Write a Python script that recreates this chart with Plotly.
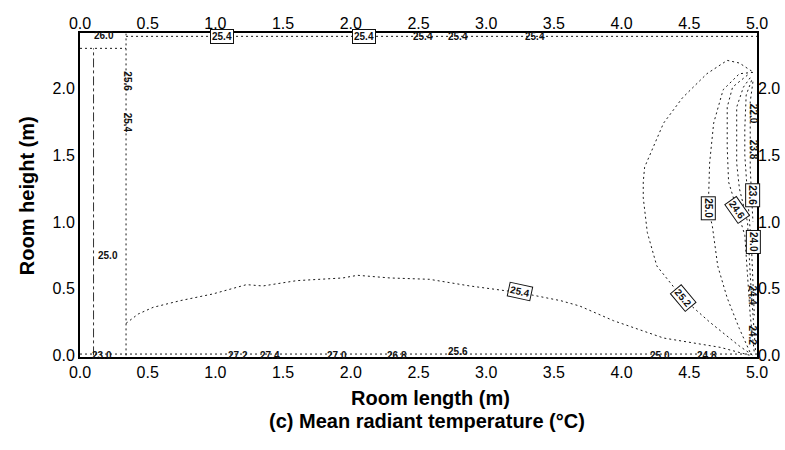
import plotly.graph_objects as go

# ---------------- data ----------------
x_ticks = [0.0, 0.5, 1.0, 1.5, 2.0, 2.5, 3.0, 3.5, 4.0, 4.5, 5.0]
y_ticks = [0.0, 0.5, 1.0, 1.5, 2.0]

# 25.4 contour along the floor region
c254_x = [0.34, 0.43, 0.54, 0.74, 0.98, 1.23, 1.35, 1.60, 1.94, 2.05, 2.29, 2.58, 2.88, 3.25, 3.55, 3.69, 3.94, 4.31, 4.73, 4.95]
c254_y = [0.24, 0.31, 0.36, 0.41, 0.46, 0.53, 0.52, 0.56, 0.58, 0.60, 0.58, 0.57, 0.52, 0.47, 0.41, 0.37, 0.26, 0.13, 0.06, 0.00]

c252_x = [4.96, 4.87, 4.78, 4.63, 4.45, 4.31, 4.17, 4.16, 4.16, 4.19, 4.26, 4.45, 4.65, 4.87, 4.97]
c252_y = [2.13, 2.19, 2.21, 2.11, 1.93, 1.74, 1.41, 1.30, 1.18, 0.92, 0.67, 0.43, 0.25, 0.07, 0.00]

c250_x = [4.97, 4.87, 4.75, 4.68, 4.65, 4.64, 4.67, 4.71, 4.78, 4.87, 4.95]
c250_y = [2.12, 2.11, 1.99, 1.74, 1.44, 1.10, 0.97, 0.67, 0.43, 0.20, 0.02]

c248_x = [4.93, 4.82, 4.78, 4.78, 4.79, 4.85, 4.91, 4.93, 4.95, 4.98]
c248_y = [2.10, 2.01, 1.86, 1.56, 1.30, 1.09, 0.90, 0.60, 0.30, 0.02]

c246_x = [4.95, 4.90, 4.85, 4.85, 4.87, 4.93, 4.95, 4.97, 4.99]
c246_y = [2.08, 2.01, 1.86, 1.44, 1.25, 1.00, 0.60, 0.30, 0.02]

c244_x = [4.96, 4.92, 4.91, 4.91, 4.93, 4.96, 4.98]
c244_y = [2.06, 1.95, 1.70, 1.50, 1.20, 0.80, 0.30]

c242_x = [4.97, 4.95, 4.95, 4.97]
c242_y = [2.05, 1.90, 1.40, 1.00]

# left-hand (window / wall) contours
wall_x = [0.34, 0.34]
wall_y = [0.00, 2.41]
left_x = [0.10, 0.10]
left_y = [0.00, 2.30]
ceil_x = [0.00, 0.34]
ceil_y = [2.30, 2.30]
top_x = [0.34, 5.00]
top_y = [2.39, 2.39]
floor_x = [0.00, 5.00]
floor_y = [0.01, 0.01]

# contour labels: text, x, y, angle, boxed
lab_text = ["25.4", "25.2", "25.0", "24.6", "23.6", "24.0", "22.0", "23.8", "24.4", "24.2",
            "25.6", "25.4", "25.0", "26.0", "23.0",
            "27.2", "27.4", "27.0", "26.8", "25.6", "25.0", "24.8",
            "25.4", "25.4", "25.4", "25.4", "25.4"]
lab_x = [3.25, 4.45, 4.64, 4.85, 4.97, 4.97, 4.97, 4.97, 4.97, 4.97,
         0.35, 0.35, 0.21, 0.18, 0.16,
         1.17, 1.40, 1.90, 2.34, 2.79, 4.28, 4.63,
         1.05, 2.10, 2.53, 2.79, 3.36]
lab_y = [0.48, 0.43, 1.10, 1.09, 1.20, 0.85, 1.81, 1.54, 0.45, 0.15,
         2.05, 1.74, 0.75, 2.40, 0.00,
         0.00, 0.00, 0.00, 0.00, 0.03, 0.00, 0.00,
         2.39, 2.39, 2.39, 2.39, 2.39]
lab_ang = [12, 50, 90, 55, 90, 90, 90, 90, 90, 90,
           90, 90, 0, 0, 0,
           0, 0, 0, 0, 0, 0, 0,
           0, 0, 0, 0, 0]
lab_box = [1, 1, 1, 1, 1, 1, 0, 0, 0, 0,
           0, 0, 0, 0, 0,
           0, 0, 0, 0, 0, 0, 0,
           1, 1, 0, 0, 0]

FONT = "Liberation Sans, Arial, Helvetica, sans-serif"
LINE = dict(color="#1a1a1a", width=1, dash="2px,3px")

fig = go.Figure()


def add_line(xs, ys, line=LINE):
    fig.add_trace(go.Scatter(x=xs, y=ys, mode="lines", line=line,
                             showlegend=False, hoverinfo="skip"))


for xs, ys in [(c254_x, c254_y), (c252_x, c252_y), (c250_x, c250_y), (c248_x, c248_y),
               (c246_x, c246_y), (c244_x, c244_y), (c242_x, c242_y),
               (wall_x, wall_y), (ceil_x, ceil_y), (top_x, top_y), (floor_x, floor_y)]:
    add_line(xs, ys)
add_line(left_x, left_y, dict(color="#333", width=1, dash="dashdot"))

# dummy trace for top/right axes
fig.add_trace(go.Scatter(x=[0], y=[0], xaxis="x2", yaxis="y2", mode="markers",
                         marker=dict(opacity=0), showlegend=False, hoverinfo="skip"))

for t, x, y, a, b in zip(lab_text, lab_x, lab_y, lab_ang, lab_box):
    fig.add_annotation(x=x, y=y, xref="x", yref="y", text="<b>" + t + "</b>",
                       showarrow=False, textangle=a,
                       font=dict(family=FONT, size=10, color="#111"),
                       bgcolor="white" if b else "rgba(0,0,0,0)",
                       bordercolor="#111" if b else "rgba(0,0,0,0)",
                       borderwidth=1 if b else 0, borderpad=1)

axis_common = dict(showgrid=False, zeroline=False, ticks="", tickformat=".1f",
                   automargin=False,
                   tickfont=dict(family=FONT, size=16, color="black"))

fig.update_layout(
    width=785, height=450,
    margin=dict(l=80, r=28, t=33, b=93, autoexpand=False),
    paper_bgcolor="white", plot_bgcolor="white",
    xaxis=dict(range=[0, 5], tickvals=x_ticks, showline=True, linecolor="black",
               linewidth=2, mirror=True, **axis_common),
    yaxis=dict(range=[-0.012, 2.415], tickvals=y_ticks, showline=True, linecolor="black",
               linewidth=2, mirror=True, **axis_common),
    xaxis2=dict(range=[0, 5], tickvals=x_ticks, overlaying="x", side="top",
                showline=False, **axis_common),
    yaxis2=dict(range=[-0.012, 2.415], tickvals=y_ticks, overlaying="y", side="right",
                showline=False, **axis_common),
)

fig.add_annotation(x=-0.078, y=0.497, xref="paper", yref="paper", showarrow=False,
                   xanchor="center", yanchor="middle",
                   text="<b>Room height (m)</b>", textangle=-90,
                   font=dict(family=FONT, size=20, color="black"))
fig.add_annotation(x=0.517, y=-0.1265, xref="paper", yref="paper", showarrow=False,
                   xanchor="center", yanchor="middle",
                   text="<b>Room length (m)</b>",
                   font=dict(family=FONT, size=20, color="black"))
fig.add_annotation(x=0.5125, y=-0.1975, xref="paper", yref="paper", showarrow=False,
                   xanchor="center", yanchor="middle",
                   text="<b>(c) Mean radiant temperature (°C)</b>",
                   font=dict(family=FONT, size=20, color="black"))

fig.write_html("out.html")
